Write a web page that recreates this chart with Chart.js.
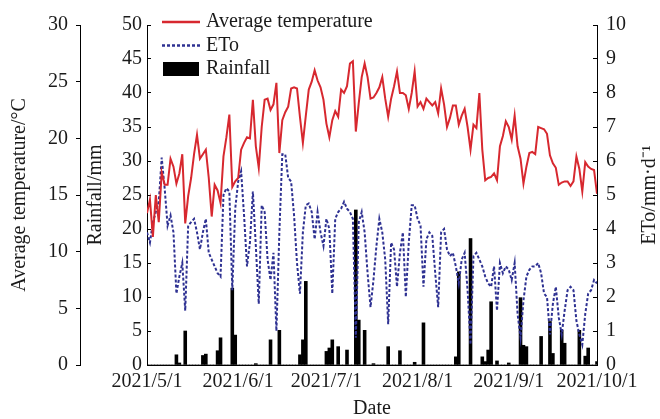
<!DOCTYPE html>
<html>
<head>
<meta charset="utf-8">
<script src="https://cdn.jsdelivr.net/npm/chart.js@4.4.0/dist/chart.umd.min.js"></script>
<style>
  html, body { margin: 0; padding: 0; background: #fff; }
  #wrap { width: 660px; height: 419px; }
</style>
</head>
<body>
<div id="wrap"><canvas id="climateChart" width="660" height="419"></canvas></div>
<script>
// daily series, 2021/5/1 .. 2021/10/1
const startDate = '2021/5/1';
const tickLabels = ['2021/5/1', '2021/6/1', '2021/7/1', '2021/8/1', '2021/9/1', '2021/10/1'];

const avgTemp = [
  13.4, 14.6, 11.3, 15.0, 12.6, 17.0, 15.9, 15.9, 18.2, 17.5,
  16.0, 16.9, 18.6, 12.5, 14.9, 16.5, 18.6, 20.3, 18.2, 18.6,
  19.0, 16.5, 13.1, 15.9, 15.4, 14.3, 18.4, 20.1, 22.1, 15.7,
  16.2, 16.5, 19.0, 19.6, 20.1, 20.0, 23.4, 19.3, 17.4, 21.0,
  23.4, 23.5, 22.5, 23.0, 24.9, 18.7, 21.6, 22.3, 22.8, 24.4,
  24.5, 24.4, 21.9, 19.6, 22.0, 24.3, 25.0, 26.0, 25.1, 24.5,
  23.4, 21.3, 20.1, 21.6, 22.4, 21.9, 24.3, 24.0, 24.6, 26.6,
  26.8, 20.6, 23.1, 25.4, 26.6, 25.4, 23.5, 23.6, 24.0, 24.5,
  25.4, 23.5, 21.9, 23.5, 24.6, 25.9, 24.0, 24.0, 23.8, 22.6,
  24.0, 25.9, 22.8, 23.2, 22.6, 23.5, 23.2, 22.9, 23.2, 22.2,
  24.4, 23.0, 21.0, 21.8, 22.9, 22.9, 21.2, 22.0, 22.6, 21.0,
  19.0, 21.2, 20.9, 24.0, 19.0, 16.3, 16.5, 16.6, 16.9, 16.3,
  19.3, 20.2, 21.5, 21.0, 19.9, 22.0, 19.3, 18.2, 16.0, 17.5,
  18.7, 18.8, 18.6, 21.0, 20.9, 20.8, 20.4, 18.5, 17.8, 17.4,
  15.9, 16.1, 16.2, 16.2, 15.8, 16.2, 18.4, 17.3, 15.3, 17.9,
  17.5, 17.3, 17.2, 15.1
];

const eto = [
  3.9, 3.6, 4.2, 4.5, 4.8, 6.1, 5.2, 4.1, 4.4, 3.9,
  2.1, 2.6, 3.0, 1.6, 4.1, 4.2, 4.3, 3.9, 3.4, 3.9,
  4.3, 3.3, 3.1, 2.9, 2.7, 2.6, 5.0, 5.2, 5.1, 2.2,
  4.6, 5.4, 5.7, 4.4, 2.9, 3.6, 5.1, 3.5, 1.8, 4.7,
  4.5, 3.1, 2.5, 3.3, 1.0, 3.9, 6.2, 6.2, 5.5, 5.4,
  4.4, 3.0, 2.1, 3.9, 4.7, 4.75, 4.5, 3.7, 4.5, 3.9,
  3.5, 4.3, 4.0, 2.1, 4.3, 4.5, 4.6, 4.8, 4.6, 4.5,
  4.3, 0.8, 4.2, 4.5, 3.9, 2.7, 1.7, 2.5, 3.5, 4.3,
  3.9, 3.1, 1.2, 3.6, 3.4, 2.3, 3.3, 3.9, 2.0, 3.6,
  4.7, 4.7, 4.3, 4.1, 2.3, 3.7, 3.9, 3.8, 2.7, 1.7,
  3.9, 4.0, 3.4, 3.2, 3.3, 2.9, 2.4, 3.1, 3.3, 2.2,
  0.6, 3.2, 3.3, 3.1, 2.9, 2.6, 2.4, 2.3, 2.9, 1.6,
  3.0, 2.7, 2.9, 2.8, 2.5, 3.0, 1.5, 0.8, 1.9, 2.6,
  2.8, 2.9, 2.9, 3.0, 2.7, 2.1, 2.0, 0.9, 1.8, 2.3,
  1.4, 0.9, 1.6, 2.2, 2.3, 2.2, 1.3, 0.9, 0.6, 1.5,
  2.1, 2.2, 2.5, 2.4
];

const rainfall = [
  0, 0, 0, 0, 0, 0, 0, 0, 0, 0,
  1.5, 0.3, 0, 5.0, 0, 0, 0, 0, 0, 1.4,
  1.6, 0, 0, 0, 2.1, 4.0, 0, 0, 0, 11.3,
  4.4, 0, 0, 0, 0, 0, 0, 0.2, 0, 0,
  0, 0, 3.7, 0, 0, 5.1, 0, 0, 0, 0,
  0, 0, 1.5, 3.7, 12.3, 0, 0, 0, 0, 0,
  0, 2.0, 2.5, 3.7, 0, 2.7, 0, 0, 2.2, 0,
  0, 22.8, 6.6, 0, 5.1, 0, 0, 0.2, 0, 0,
  0, 0, 2.7, 0, 0, 0, 2.1, 0, 0, 0,
  0, 0.4, 0, 0, 6.2, 0, 0, 0, 0, 0,
  0, 0, 0, 0, 0, 1.2, 13.7, 0, 0, 0,
  18.6, 0, 0, 0, 1.2, 0.5, 2.2, 9.3, 0, 0.6,
  0, 0, 0, 0.3, 0, 0, 0, 9.9, 2.9, 2.7,
  0, 0, 0, 0, 4.2, 0, 0, 6.4, 1.7, 0,
  0, 5.1, 3.2, 0, 0, 0, 0, 5.1, 0, 1.3,
  2.5, 0, 0, 0.5
];

function dayOffset(label) {
  const [y, m, d] = label.split('/').map(Number);
  const [y0, m0, d0] = startDate.split('/').map(Number);
  return Math.round((Date.UTC(y, m - 1, d) - Date.UTC(y0, m0 - 1, d0)) / 86400000);
}
const tickDays = tickLabels.map(dayOffset);
const toPoints = arr => arr.map((v, i) => ({ x: i, y: v }));

const serif = "'Liberation Serif', 'Times New Roman', serif";
const ink = '#1a1a1a';
Chart.defaults.font.family = serif;
Chart.defaults.font.size = 20;
Chart.defaults.color = ink;

// legend inside the plot + right axis title read bottom-to-top
const overlay = {
  id: 'overlay',
  afterDraw(chart) {
    const ctx = chart.ctx;
    ctx.save();
    ctx.font = '20px ' + serif;
    ctx.textBaseline = 'middle';
    chart.data.datasets.forEach((ds, i) => {
      const y = 22 + i * 23.5;
      if (ds.type === 'line') {
        ctx.strokeStyle = ds.borderColor;
        ctx.lineWidth = ds.borderWidth + 0.5;
        ctx.setLineDash(ds.borderDash || []);
        ctx.beginPath();
        ctx.moveTo(162, y);
        ctx.lineTo(200, y);
        ctx.stroke();
        ctx.setLineDash([]);
      } else {
        ctx.fillStyle = ds.backgroundColor;
        ctx.fillRect(163, y - 7, 36, 14);
      }
      ctx.fillStyle = ink;
      ctx.textAlign = 'left';
      ctx.fillText(ds.label, 206, y);
    });
    const yE = chart.scales.yE;
    ctx.translate(650, (yE.top + yE.bottom) / 2);
    ctx.rotate(-Math.PI / 2);
    ctx.textAlign = 'center';
    ctx.fillText('ETo/mm·d⁻¹', 0, 0);
    ctx.restore();
  }
};

const ctx = document.getElementById('climateChart').getContext('2d');
const climateChart = new Chart(ctx, {
  type: 'bar',
  data: {
    datasets: [
      {
        type: 'line',
        label: 'Average temperature',
        data: toPoints(avgTemp),
        yAxisID: 'yT',
        borderColor: '#d7282f',
        borderWidth: 2,
        pointRadius: 0,
        tension: 0,
        order: 0
      },
      {
        type: 'line',
        label: 'ETo',
        data: toPoints(eto),
        yAxisID: 'yE',
        borderColor: '#2e3192',
        borderWidth: 2,
        borderDash: [3, 2],
        pointRadius: 0,
        tension: 0,
        order: 1
      },
      {
        type: 'bar',
        label: 'Rainfall',
        data: toPoints(rainfall),
        yAxisID: 'yR',
        backgroundColor: '#000000',
        barPercentage: 1,
        categoryPercentage: 1,
        order: 2
      }
    ]
  },
  options: {
    responsive: false,
    animation: false,
    layout: { padding: { top: 25, left: 0, right: 0, bottom: 0 } },
    plugins: {
      legend: { display: false },
      tooltip: { enabled: false }
    },
    scales: {
      x: {
        type: 'linear',
        min: 0,
        max: 153,
        offset: false,
        grid: { display: true, drawOnChartArea: false, drawTicks: false, offset: false },
        border: { color: '#000', width: 1 },
        afterBuildTicks: s => { s.ticks = tickDays.map(v => ({ value: v })); },
        ticks: { autoSkip: false, maxRotation: 0, padding: 5, callback: (v, i) => tickLabels[i] },
        title: { display: true, text: 'Date', padding: { top: 0, bottom: 0 }, font: { lineHeight: 1 } },
        afterFit: s => { s.height = 54; }
      },
      yT: {
        position: 'left',
        weight: 2,
        min: 0,
        max: 30,
        ticks: { stepSize: 5, padding: 8 },
        grid: { drawOnChartArea: false, tickLength: 4, color: '#000' },
        border: { color: '#000' },
        title: { display: true, text: 'Average temperature/°C', padding: { top: 10, bottom: 0 }, font: { lineHeight: 1 } },
        afterFit: s => { s.width = 80; }
      },
      yR: {
        position: 'left',
        weight: 1,
        min: 0,
        max: 50,
        ticks: { stepSize: 5, padding: 9 },
        grid: { drawOnChartArea: false, tickLength: -4, color: '#000' },
        border: { color: '#000' },
        title: { display: true, text: 'Rainfall/mm', padding: { top: 6, bottom: 0 }, font: { lineHeight: 1 } },
        afterFit: s => { s.width = 67; }
      },
      yE: {
        position: 'right',
        min: 0,
        max: 10,
        ticks: { stepSize: 1, padding: 13 },
        grid: { drawOnChartArea: false, tickLength: -4, color: '#000' },
        border: { color: '#000' },
        afterFit: s => { s.width = 63; }
      }
    }
  },
  plugins: [overlay]
});
</script>
</body>
</html>
